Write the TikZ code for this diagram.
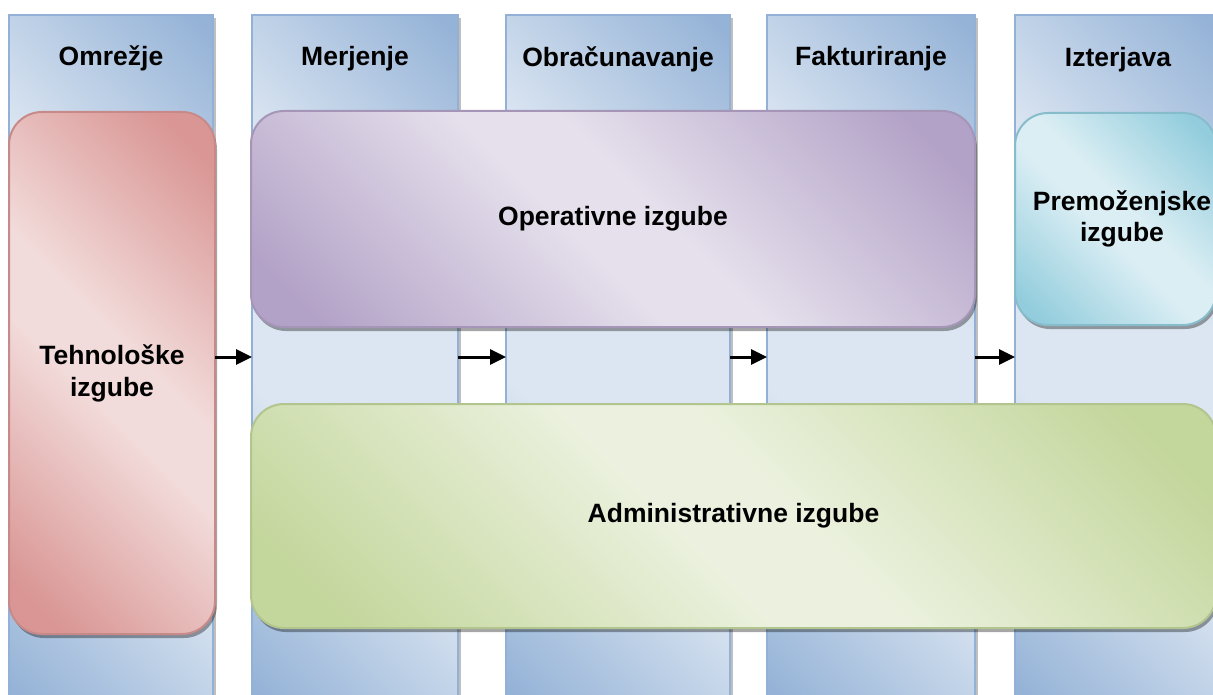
\documentclass[tikz,border=0pt]{standalone}
\usepackage{fontspec}
\setmainfont{Liberation Sans}
\usetikzlibrary{arrows.meta,shadows}

% palette
\definecolor{colLight}{HTML}{DCE6F2}
\definecolor{colDark}{HTML}{95B3D7}
\definecolor{colEdge}{HTML}{93B1D6}
\definecolor{pinkLight}{HTML}{F2DCDB}
\definecolor{pinkDark}{HTML}{D99694}
\definecolor{purpLight}{HTML}{E5E0EC}
\definecolor{purpDark}{HTML}{B3A2C7}
\definecolor{cyanLight}{HTML}{DBEEF4}
\definecolor{cyanDark}{HTML}{93CDDD}
\definecolor{grnLight}{HTML}{EBF1DE}
\definecolor{grnDark}{HTML}{C3D69B}

% dark - light - dark bands, laid diagonally via shading angle
\pgfdeclarehorizontalshading{lanefill}{100bp}{%
  color(0bp)=(colDark); color(16bp)=(colDark); color(40bp)=(colLight);
  color(60bp)=(colLight); color(84bp)=(colDark); color(100bp)=(colDark)}
\newcommand\boxshade[3]{\pgfdeclarehorizontalshading{#1}{100bp}{%
  color(0bp)=(#3); color(20bp)=(#3); color(46bp)=(#2);
  color(54bp)=(#2); color(80bp)=(#3); color(100bp)=(#3)}}
\boxshade{pinkfill}{pinkLight}{pinkDark}
\boxshade{purpfill}{purpLight}{purpDark}
\boxshade{cyanfill}{cyanLight}{cyanDark}
\boxshade{grnfill}{grnLight}{grnDark}

\begin{document}
\begin{tikzpicture}[x=1pt,y=-1pt,
  lane/.style={rectangle, draw=colEdge, line width=2pt, shading=lanefill,
    shading angle=45, inner sep=0pt, outer sep=0pt,
    drop shadow={shadow xshift=2.5pt, shadow yshift=-3pt, fill=black, opacity=0.25}},
  head/.style={anchor=base, inner sep=0pt,
    font=\fontsize{26.5}{31}\selectfont\bfseries},
  loss/.style={rectangle, rounded corners=33pt, line width=2pt,
    shading angle=45, inner sep=0pt, outer sep=0pt, align=center,
    font=\fontsize{26.5}{32}\selectfont\bfseries,
    drop shadow={shadow xshift=2pt, shadow yshift=-4pt, fill=black, opacity=0.35}},
  losstext/.style={inner sep=0pt, align=center,
    font=\fontsize{26.5}{31}\selectfont\bfseries},
  flow/.style={line width=3pt, -{Triangle[length=16pt,width=15pt]}}
]
\useasboundingbox (0,0) rectangle (1213,695);
\clip (0,0) rectangle (1213,695);

% process lanes
\node[lane, minimum width=204pt, minimum height=690pt] (c1) at (111,360) {};
\node[lane, minimum width=206pt, minimum height=690pt] (c2) at (355,360) {};
\node[lane, minimum width=224pt, minimum height=690pt] (c3) at (618,360) {};
\node[lane, minimum width=208pt, minimum height=690pt] (c4) at (871,360) {};
\node[lane, minimum width=206pt, minimum height=690pt] (c5) at (1118,360) {};

% lane titles
\node[head] (h1) at (111,66) {Omrežje};
\node[head] (h2) at (355,66) {Merjenje};
\node[head] (h3) at (618,67) {Obračunavanje};
\node[head] (h4) at (871,66) {Fakturiranje};
\node[head] (h5) at (1118,67) {Izterjava};

% loss groups
\node[loss, shading=pinkfill, draw=pinkDark!92!black,
  minimum width=206pt, minimum height=522pt] (tech) at (112,373) {Tehnološke\\izgube};
\node[loss, shading=purpfill, draw=purpDark!92!black,
  minimum width=724pt, minimum height=216pt] (oper) at (613,219) {Operativne izgube};
\node[loss, shading=cyanfill, draw=cyanDark!92!black,
  minimum width=201pt, minimum height=212pt] (prem) at (1115.5,219) {};
\node[losstext] (premtxt) at (1122,219) {Premoženjske\\izgube};
\node[loss, shading=grnfill, draw=grnDark!92!black,
  minimum width=965pt, minimum height=224pt] (admin) at (733.5,516) {Administrativne izgube};

% flow between lanes
\coordinate (ay) at (0,357);
\draw[flow] (tech.east |- ay) -- (c2.west |- ay);
\draw[flow] (c2.east |- ay) -- (c3.west |- ay);
\draw[flow] (c3.east |- ay) -- (c4.west |- ay);
\draw[flow] (c4.east |- ay) -- (c5.west |- ay);
\end{tikzpicture}
\end{document}
